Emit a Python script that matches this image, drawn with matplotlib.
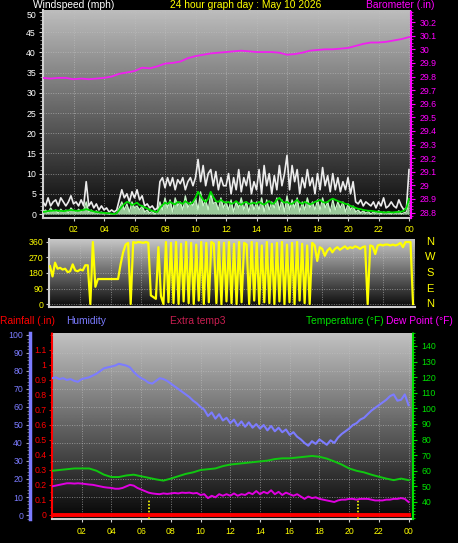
import matplotlib
matplotlib.use("Agg")
import matplotlib.pyplot as plt
import matplotlib.transforms as mtrans
import numpy as np
from matplotlib.ticker import MultipleLocator, FuncFormatter, FixedLocator

# ── data ────────────────────────────────────────────────────────────────
# wind, 10-minute steps from 00:00 to 24:00 (mph)
gust = [3, 2, 4, 2, 3, 3.5, 2, 4, 3, 2, 3, 4.5, 2.5, 3, 2, 3.5, 2,
        8, 2,
        3, 1.5, 2.5, 1, 2, 1, 1.5, 0.5, 1,
        0.5, 1,
        3.5, 6, 4, 5, 3, 5.5, 4, 6, 3.5, 4.5,
        2, 2.5, 1.5, 2, 1, 1.5,
        8, 9, 6.5, 9, 7, 9, 6, 8.5, 7.5, 9, 6, 8, 9, 7,
        9, 13.5, 8, 12, 7, 10, 11, 7, 10.5, 6, 9, 7,
        7, 10, 5, 9, 6, 11, 5.5, 9, 7, 10.5, 5, 8,
        6, 11, 5, 12, 7, 10, 5, 9.5, 6, 12, 7, 10,
        14.5, 6, 12, 8, 11, 5, 9, 6.5, 11, 7, 9, 5,
        10, 6, 11.5, 7, 9.5, 5.5, 10, 6, 9, 5.5, 8, 6, 9, 5, 8,
        3, 2.5, 3.5, 2, 3, 2.5, 2, 3, 1.5, 3, 2, 4, 1.5, 2, 3, 2, 1.5, 3.5, 2, 1, 1.5,
        11]
speed = [0.5, 1, 0.3, 1.5, 0.5, 1, 0.2, 1.2, 0.5, 1, 0.3, 1.5, 0.8, 0.4, 1.2, 0.5, 1,
         3, 0.5,
         1, 0.3, 0.8, 0.2, 0.5, 0, 0.3, 0, 0,
         0, 0.2,
         1.5, 3, 1, 2.5, 0.5, 3, 1.5, 2, 1, 2,
         0.5, 1, 0.2, 0.8, 0, 0.5,
         3, 1, 4, 1.5, 3.5, 0.5, 4, 2, 3, 1, 4.5, 1.5, 3, 2,
         4, 1, 5.5, 2, 3.5, 1, 5, 2.5, 3, 1, 4, 1.5,
         3, 1, 3.5, 0.5, 3, 1.5, 4, 1, 3, 0.5, 3.5, 1,
         3, 1, 4, 0.5, 3.5, 1, 3, 1.5, 4, 1, 3.5, 0.5,
         4.5, 1, 3.5, 1.5, 4, 0.5, 3, 1, 4, 1.5, 3, 1,
         3.5, 1, 4, 1.5, 3, 0.5, 3.5, 1, 3, 1.5, 3, 0.5, 2.5, 1, 2,
         0.5, 1, 0.3, 0.8, 0.2, 0.6, 0, 0.5, 0.2, 0.8, 0, 0.5, 0.3, 0.6, 0, 0.4, 0.2, 0.8, 0, 0.3, 0.5,
         3]
avg = [0.5, 0.6, 0.7, 0.8, 0.8, 0.9, 0.8, 0.8, 0.7, 0.8, 0.9, 1.0, 0.9, 0.8, 0.8, 0.9, 1.0,
       1.2, 1.0,
       0.8, 0.6, 0.5, 0.4, 0.3, 0.3, 0.2, 0.2, 0.1,
       0.0, 0.2,
       1.0, 1.8, 2.5, 3.0, 2.8, 2.2, 2.5, 2.8, 2.2, 2.0,
       1.6, 1.4, 1.0, 0.8, 0.6, 0.5,
       1.5, 2.2, 2.8, 2.5, 3.0, 2.6, 2.4, 3.0, 2.8, 2.5, 3.2, 2.7, 2.5, 3.0,
       4.0, 5.5, 4.5, 3.5, 3.0, 3.8, 5.5, 4.2, 3.2, 3.0, 3.5, 3.0,
       2.8, 3.0, 2.5, 2.7, 3.2, 2.6, 2.3, 2.8, 3.0, 2.5, 2.6, 2.8,
       2.5, 3.0, 2.6, 2.3, 2.8, 3.2, 2.5, 2.7, 3.5, 4.0, 3.2, 2.8,
       3.0, 2.6, 2.5, 3.0, 3.5, 2.8, 2.5, 3.0, 2.7, 2.4, 2.6, 3.0,
       3.2, 3.5, 3.0, 2.8, 3.0, 3.5, 3.8, 3.5, 3.2, 3.0, 2.8, 2.5, 2.4, 2.0, 1.8,
       1.5, 1.3, 1.2, 1.0, 0.9, 0.8, 0.8, 0.7, 0.6, 0.5, 0.5, 0.4, 0.4, 0.5, 0.4, 0.4, 0.5, 0.5, 0.6, 0.8, 1.5,
       3.8]
# wind direction, 10-minute steps (degrees)
wdir = [220, 160, 240, 205, 210, 200, 205, 185, 190, 230, 195, 190, 200, 195, 225, 225,
        0, 360, 100,
        145, 145, 145, 145, 145, 145, 145, 145, 145,
        230, 300, 345, 355, 0, 360,
        355, 360, 358, 355, 360, 355,
        50, 40, 30, 330, 45, 0,
        360,
        10, 355, 5, 360, 0, 350, 15, 360, 5, 355, 0, 345,
        20, 360, 0, 355, 10, 360, 350, 5, 360, 0, 355, 15,
        360, 5, 350, 0, 360, 10, 355, 345, 0, 360, 20, 355,
        0, 340, 10, 360, 5, 350, 0, 355, 15, 360, 0, 345,
        10, 355, 0, 360, 20, 350, 5, 340, 0, 355,
        340, 250, 330, 320, 280, 310, 325, 300, 320, 330, 315, 325, 335, 320, 330, 325, 335, 330, 320, 330, 335,
        0,
        340, 335, 290, 340, 345, 340, 345, 345, 340, 345, 340, 345,
        355, 330, 360, 360, 360,
        0]
# barometer, 30-minute steps (in)
baro = [29.79, 29.785, 29.79, 29.79, 29.78, 29.785, 29.78, 29.785, 29.79, 29.80,
        29.82, 29.83, 29.84, 29.865, 29.86, 29.875, 29.895, 29.90, 29.91, 29.935,
        29.95, 29.96, 29.97, 29.975, 29.98, 29.985, 29.99, 29.985, 29.98, 29.98,
        29.98, 29.975, 29.96, 29.965, 29.975, 29.99, 29.995, 30.0, 30.0, 30.005,
        30.01, 30.025, 30.04, 30.05, 30.05, 30.055, 30.065, 30.075, 30.09]
# temperature, 30-minute steps (F)
temp = [60, 60.5, 61, 61.5, 61.5, 61.5, 60, 57.5, 56, 56, 57, 57.5, 56.5, 55.5,
        54.5, 53.7, 55, 56.5, 58, 59, 60.5, 61, 61.5, 63, 64, 64.5, 65, 65.5, 66,
        66.5, 67.5, 68, 68, 68.5, 69, 69.5, 69, 67.8, 66, 64, 61.5, 60, 59, 57.5,
        56.2, 55, 54, 55, 54]
# humidity, 15-minute steps (%)
hum = [76, 76.5, 75.5, 76, 75, 75.5, 74.5, 74, 75.5, 76, 76.5, 77.5, 78.5, 80, 81.5, 82,
       82.5, 83, 84, 83.5, 83, 82, 79.5, 77.5, 76, 75, 73.5, 73, 74.5, 76, 75.5, 74.5,
       73, 71.5, 70, 68.5, 67, 65.5, 63.5, 62, 60, 58.5, 55, 57, 53.5, 56, 52.5, 54,
       51, 53, 49.5, 52, 49, 51.5, 48.5, 50.5, 48, 50, 47, 49.5, 46.5, 48.5, 46, 47.5,
       44.5, 46, 43.5, 42, 40, 38.5, 41, 39.5, 42, 40.5, 39, 41.5, 40, 43, 45, 46.5,
       48, 50, 51, 53, 54, 56, 58, 59.5, 61, 62.5, 64, 66, 67, 63.5, 64, 67, 61]
# dew point, 15-minute steps (F)
dew = [50, 50.5, 51, 51.5, 52, 52, 51.8, 52, 51.8, 51.5, 51.2, 51, 50.5, 50, 49.5, 49.2,
       49, 48.5, 48.5, 49, 50, 51, 50.5, 49, 48, 47, 46, 45.5, 45.2, 45, 45.5, 45.2,
       45.5, 45.8, 45.5, 46, 45.8, 46, 45.5, 45.8, 44.5, 45, 42.5, 44, 43, 45, 44, 45,
       44, 45.5, 44, 45, 44.5, 46, 45, 47, 45, 46.5, 45.5, 47.5, 45, 46.5, 44.5, 46,
       45, 44, 45, 43.5, 42, 43.5, 42.5, 43, 42, 41.5, 41, 40.5, 40, 41, 41.5, 41.5,
       42, 42, 41.5, 42, 42, 42, 41.5, 41, 41, 41, 41.5, 41.5, 42, 42, 42.5, 42, 40]
rain_t = [0, 24]
rain = [0.0, 0.0]
sun_marks = [6.5, 20.6]          # sunrise / sunset markers (hours)

hour_ticks = list(range(2, 25, 2))
hour_labels = ["02", "04", "06", "08", "10", "12", "14", "16", "18", "20", "22", "00"]
compass = ["N", "W", "S", "E", "N"]

t10 = np.arange(len(gust)) / 6
t30 = np.arange(len(baro)) / 2
t15 = np.arange(len(hum)) / 4

# ── style ───────────────────────────────────────────────────────────────
plt.rcParams["font.family"] = ["Liberation Sans", "DejaVu Sans"]
YEL, MAG, RED, BLU, GRN = "#ffff00", "#ff00ff", "#ff0000", "#7b7bff", "#00e000"
EDGE = "#d0d0d0"
W, H = 458, 543


def rect(l, t, r, b):
    return [l / W, 1 - b / H, (r - l) / W, (b - t) / H]


def backdrop(ax, top, bottom):
    g = np.linspace(top, bottom, 256).reshape(-1, 1)
    ax.imshow(g, cmap="gray", vmin=0, vmax=1, aspect="auto", extent=[0, 1, 0, 1],
              transform=ax.transAxes, zorder=0, interpolation="bilinear")


def frame(ax):
    ax.set_facecolor("black")
    for s in ("top", "right"):
        ax.spines[s].set_visible(False)
    for s in ("left", "bottom"):
        ax.spines[s].set_color(EDGE)
        ax.spines[s].set_linewidth(1.5)
    ax.grid(color="#c0c0c0", lw=0.7, ls=(0, (1, 1.5)), alpha=0.6)


def gfmt(v, _):
    return f"{round(v, 2):g}"


fig = plt.figure(figsize=(W / 100, H / 100), dpi=100, facecolor="black")

# ── top panel: wind + barometer ─────────────────────────────────────────
ax_w = fig.add_axes(rect(43, 10, 411, 218))
frame(ax_w)
backdrop(ax_w, 0.74, 0.03)
ax_w.fill_between(t10, 0, speed, color="#b4ecb4", alpha=0.85, lw=0, zorder=2)
ax_w.plot(t10, gust, color="#ececec", lw=1.2, zorder=3)
ax_w.plot(t10, speed, color="#c8f4c8", lw=0.9, zorder=3)
ax_w.plot(t10, avg, color="#00dd00", lw=1.3, zorder=4)
ax_w.set_xlim(0, 24.13)
ax_w.set_ylim(-0.99, 50.5)
ax_w.yaxis.set_major_locator(MultipleLocator(5))
ax_w.yaxis.set_minor_locator(MultipleLocator(1))
ax_w.set_xticks(hour_ticks)
ax_w.set_xticklabels(hour_labels, color=YEL, fontsize=6.3)
ax_w.tick_params(axis="y", colors=EDGE, labelcolor="white", length=3, labelsize=6.3, pad=2)
ax_w.tick_params(axis="y", which="minor", colors="#a0a0a0", length=2)
ax_w.tick_params(axis="x", colors=EDGE, labelcolor=YEL, length=2, pad=3)
fig.canvas.draw()
top_lab = [l for l in ax_w.get_yticklabels() if l.get_text() == "50"]
for l in top_lab:   # nudge the top label down, clear of the title row
    l.set_transform(l.get_transform() + mtrans.ScaledTranslation(0, -2 / 72, fig.dpi_scale_trans))

ax_p = ax_w.twinx()
ax_p.plot(t30, baro, color="#f020f0", lw=1.3, zorder=5)
ax_p.set_ylim(28.76, 30.289)
ax_p.yaxis.set_major_locator(FixedLocator(np.round(np.arange(28.8, 30.21, 0.1), 1)))
ax_p.yaxis.set_minor_locator(MultipleLocator(0.025))
ax_p.yaxis.set_major_formatter(FuncFormatter(gfmt))
for s in ("top", "left", "bottom"):
    ax_p.spines[s].set_visible(False)
ax_p.spines["right"].set_color(MAG)
ax_p.spines["right"].set_linestyle((0, (1, 1)))
ax_p.spines["right"].set_linewidth(1.5)
ax_p.tick_params(axis="y", colors=MAG, length=3, labelsize=6.3, pad=3)
ax_p.tick_params(axis="y", which="minor", colors=MAG, length=1.5)

# ── middle panel: wind direction ────────────────────────────────────────
ax_d = fig.add_axes(rect(49, 239, 415, 307))
frame(ax_d)
backdrop(ax_d, 0.78, 0.04)
ax_d.plot(t10, wdir, color=YEL, lw=1.6, zorder=3)
ax_d.set_xlim(-0.066, 24.13)
ax_d.set_ylim(-17.4, 377.4)
ax_d.set_yticks([0, 90, 180, 270, 360])
ax_d.set_xticks(hour_ticks)
ax_d.tick_params(axis="x", length=0, labelbottom=False)
ax_d.tick_params(axis="y", colors=EDGE, labelcolor=YEL, length=2, labelsize=6.3, pad=2)
for lab, yv in zip(compass, [360, 270, 180, 90, 0]):
    ax_d.text(1.041, yv, lab, color=YEL, fontsize=8, ha="center", va="center",
              transform=ax_d.get_yaxis_transform())

# ── bottom panel: rain / humidity / temperature / dew point ─────────────
ax_b = fig.add_axes(rect(52, 333, 413, 519))
frame(ax_b)
backdrop(ax_b, 0.76, 0.02)
ax_b.grid(axis="y", visible=False)
for s in sun_marks:
    ax_b.plot([s, s], [-0.027, 0.1], color=YEL, lw=1.2, ls=(0, (1, 1)), zorder=3)
ax_b.set_xlim(0, 24.3)
ax_b.set_ylim(-0.0267, 1.2133)
ax_b.set_yticks(np.round(np.arange(0, 1.15, 0.1), 1))
ax_b.yaxis.set_major_formatter(FuncFormatter(gfmt))
ax_b.yaxis.set_minor_locator(MultipleLocator(0.05))
ax_b.spines["left"].set_color(RED)
ax_b.spines["left"].set_linestyle((0, (1, 1)))
ax_b.set_xticks(hour_ticks)
ax_b.set_xticklabels(hour_labels, color=YEL, fontsize=6.3)
ax_b.tick_params(axis="x", colors=EDGE, labelcolor=YEL, length=2, pad=4)
ax_b.tick_params(axis="y", colors=RED, length=2, labelsize=6.3, pad=2)
ax_b.tick_params(axis="y", which="minor", colors=RED, length=1.5)

ax_h = ax_b.twinx()
ax_h.plot(t15, hum, color="#7c7cff", lw=1.5, zorder=3)
ax_h.set_ylim(-2.22, 101.1)
ax_h.yaxis.set_ticks_position("left")
ax_h.spines["left"].set_position(("axes", -22 / 361))
ax_h.spines["left"].set_visible(True)
ax_h.spines["left"].set_color(BLU)
ax_h.spines["left"].set_linewidth(2.5)
for s in ("top", "right", "bottom"):
    ax_h.spines[s].set_visible(False)
ax_h.set_yticks(range(0, 101, 10))
ax_h.yaxis.set_minor_locator(MultipleLocator(2))
ax_h.tick_params(axis="y", colors="#a0a0a0", labelcolor=BLU, length=3, labelsize=6.3, pad=2)
ax_h.tick_params(axis="y", which="minor", colors="#808080", length=2)
ax_h.grid(axis="y", color="#c0c0c0", lw=0.7, ls=(0, (1, 1.5)), alpha=0.6)

ax_t = ax_b.twinx()
ax_t.plot(t30, temp, color="#10c810", lw=1.4, zorder=3)
ax_t.plot(t15, dew, color="#e000e0", lw=1.4, zorder=3)
ax_t.set_ylim(29.1, 148.3)
ax_t.set_yticks(range(40, 141, 10))
ax_t.yaxis.set_minor_locator(MultipleLocator(2))
for s in ("top", "left", "bottom"):
    ax_t.spines[s].set_visible(False)
ax_t.spines["right"].set_color(GRN)
ax_t.spines["right"].set_linestyle((0, (1, 1)))
ax_t.spines["right"].set_linewidth(1.5)
ax_t.tick_params(axis="y", colors=GRN, length=3, labelsize=6.3, pad=3)
ax_t.tick_params(axis="y", which="minor", colors=GRN, length=1.5)

# rainfall on top of everything
ax_r = ax_b.twinx()
ax_r.set_ylim(ax_b.get_ylim())
ax_r.plot(rain_t, rain, color=RED, lw=2.8, zorder=5)
ax_r.axis("off")


# ── titles / legend texts ───────────────────────────────────────────────
def label(x, y, s, c, ha="left"):
    fig.text(x / W, 1 - y / H, s, color=c, fontsize=7.4, ha=ha, va="center")


label(33, 5, "Windspeed (mph)", "white")
label(170, 5, "24 hour graph day : May 10 2026", YEL)
label(366, 5, "Barometer (.in)", MAG)
label(0, 321, "Rainfall (.in)", RED)
label(66, 321, "Humidity", BLU)
label(170, 321, "Extra temp3", "#c81e50")
label(384, 321, "Temperature (°F)", GRN, ha="right")
label(453, 321, "Dew Point (°F)", MAG, ha="right")

fig.savefig("out.png", dpi=100, facecolor="black")
